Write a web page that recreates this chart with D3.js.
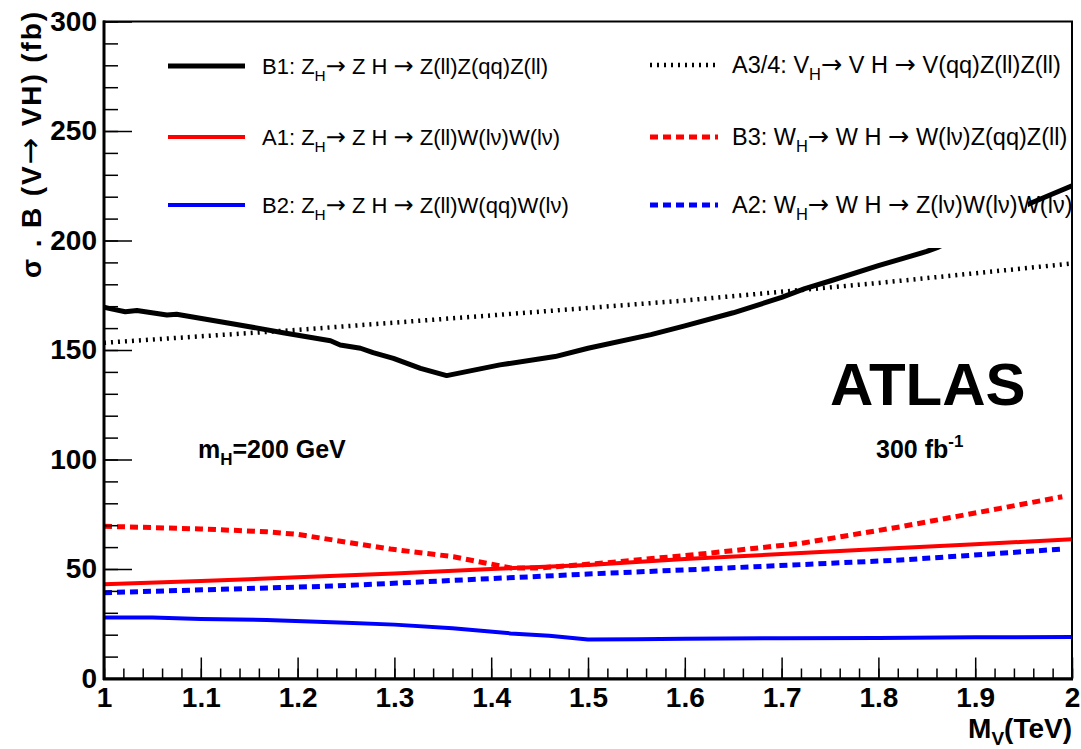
<!DOCTYPE html>
<html><head><meta charset="utf-8">
<script src="https://cdn.jsdelivr.net/npm/d3@7"></script>
<style>body{margin:0;background:#fff}svg{display:block}text{font-family:"Liberation Sans",Arial,sans-serif}</style>
</head><body><div id="chart"></div>
<script>
// ---- data ----
const xTickLabels = ["1","1.1","1.2","1.3","1.4","1.5","1.6","1.7","1.8","1.9","2"];
const yTickLabels = ["0","50","100","150","200","250","300"];

const mB1 = [1.0,1.005,1.022,1.034,1.065,1.075,1.134,1.185,1.234,1.244,1.265,1.278,1.299,1.327,1.354,1.409,1.466,1.5,1.565,1.6,1.65,1.7,1.724,1.75,1.8,1.85,1.862,1.9,1.957,2.0];
const vB1 = [169.5,169.0,167.5,168.0,166.0,166.3,161.9,157.9,154.2,152.3,150.8,148.8,146.2,141.6,138.3,143.2,147.0,150.8,157.0,161.0,167.0,174.0,178.0,181.5,188.5,195.0,197.0,205.0,217.0,225.0];

const mA34 = [1.0,1.2,1.4,1.6,1.8,2.0];
const vA34 = [153.3,159.2,165.8,172.6,180.6,189.5];

const mA1 = [1.0,1.1,1.2,1.3,1.4,1.5,1.6,1.7,1.8,1.9,2.0];
const vA1 = [43.0,44.5,46.2,48.0,50.0,51.8,54.6,56.8,59.1,61.3,63.6];

const mB3 = [1.0,1.1,1.168,1.2,1.296,1.361,1.42,1.45,1.513,1.616,1.72,1.823,1.926,1.99];
const vB3 = [69.5,68.3,67.0,65.8,59.1,55.6,50.5,50.5,52.6,56.8,61.7,69.3,77.7,83.0];

const mA2 = [1.0,1.237,1.5,1.616,1.823,1.99];
const vA2 = [39.2,42.2,47.7,49.9,54.1,59.1];

const mB2 = [1.0,1.05,1.1,1.168,1.25,1.3,1.36,1.42,1.46,1.5,1.55,1.6,1.7,1.8,1.9,2.0];
const vB2 = [27.9,27.8,27.2,26.7,25.5,24.6,22.9,20.6,19.5,17.8,17.9,18.2,18.4,18.5,18.8,19.0];

// ---- layout ----
const W = 1081, H = 749;
const svg = d3.select("#chart").append("svg").attr("width", W).attr("height", H);
const x = d3.scaleLinear().domain([1, 2]).range([104, 1072]);
const y = d3.scaleLinear().domain([0, 300]).range([678.5, 21.5]);

svg.append("defs").append("clipPath").attr("id","clip")
  .append("rect").attr("x",104).attr("y",21.5).attr("width",968).attr("height",657);

const zip = (m, v) => m.map((d, i) => [d, v[i]]);
const line = d3.line().x(d => x(d[0])).y(d => y(d[1])).curve(d3.curveLinear);

const series = [
  {name:"B1", data: zip(mB1,vB1), color:"#000", w:5, dash:null},
  {name:"A3/4", data: zip(mA34,vA34), color:"#000", w:4.5, dash:"2,5"},
  {name:"A1", data: zip(mA1,vA1), color:"#ff0000", w:4, dash:null},
  {name:"B3", data: zip(mB3,vB3), color:"#ff0000", w:5, dash:"8,5"},
  {name:"B2", data: zip(mB2,vB2), color:"#0000ff", w:4, dash:null},
  {name:"A2", data: zip(mA2,vA2), color:"#0000ff", w:5, dash:"8,5"}
];

const g = svg.append("g").attr("clip-path","url(#clip)");
series.forEach(s => {
  g.append("path").datum(s.data).attr("d", line)
    .attr("fill","none").attr("stroke", s.color).attr("stroke-width", s.w)
    .attr("stroke-dasharray", s.dash).attr("stroke-linejoin","round");
});

// legend background (covers part of curve as in the reference)
svg.append("rect").attr("x",140).attr("y",28).attr("width",888).attr("height",220).attr("fill","#fff");

// ---- axes ----
const yAxis = d3.axisLeft(y).tickValues([0,50,100,150,200,250,300])
  .tickFormat((d,i) => yTickLabels[i]).tickSizeInner(-28).tickSizeOuter(0).tickPadding(7);
const yMinor = d3.axisLeft(y).tickValues(d3.range(0, 301, 10)).tickFormat("").tickSizeInner(-14).tickSizeOuter(0);
const xAxis = d3.axisBottom(x).tickValues(d3.range(0, 11).map(i => 1 + i / 10))
  .tickFormat((d,i) => xTickLabels[i]).tickSizeInner(-21).tickSizeOuter(0).tickPadding(9);
const xMinor = d3.axisBottom(x).tickValues(d3.range(0, 51).map(i => 1 + i / 50)).tickFormat("").tickSizeInner(-10).tickSizeOuter(0);

function styleAxis(sel){
  sel.selectAll(".domain").remove();
  sel.selectAll("line").attr("stroke","#000").attr("stroke-width",1.5);
  sel.selectAll("text").attr("fill","#000").attr("font-size",28).attr("font-weight","bold")
     .style("font-family","'Liberation Sans',Arial,sans-serif");
}
svg.append("g").attr("transform","translate(104,0)").call(yMinor).call(styleAxis);
svg.append("g").attr("transform","translate(104,0)").call(yAxis).call(styleAxis);
svg.append("g").attr("transform","translate(0,678.5)").call(xMinor).call(styleAxis);
svg.append("g").attr("transform","translate(0,678.5)").call(xAxis).call(styleAxis);

// frame
svg.append("rect").attr("x",104).attr("y",21.5).attr("width",968).attr("height",657)
  .attr("fill","none").attr("stroke","#000").attr("stroke-width",2);
svg.append("line").attr("x1",104).attr("x2",104).attr("y1",20.5).attr("y2",680).attr("stroke","#000").attr("stroke-width",3);
svg.append("line").attr("x1",103).attr("x2",1073).attr("y1",679).attr("y2",679).attr("stroke","#000").attr("stroke-width",3);

// helper: write a string, rendering arrows with a wider glyph
function addRich(textSel, str, arrowSize, firstDy){
  let first = true;
  str.split("→").forEach((part, i) => {
    if (i > 0) {
      const a = textSel.append("tspan").style("font-family","'DejaVu Sans',sans-serif")
        .attr("font-size", arrowSize).attr("font-weight","normal").text("→");
      if (first && firstDy) a.attr("dy", firstDy);
      first = false;
    }
    if (part) {
      const p = textSel.append("tspan").text(part);
      if (first && firstDy) p.attr("dy", firstDy);
      first = false;
    }
  });
}

// axis titles
const yt = svg.append("text").attr("transform","translate(41,12) rotate(-90)")
  .attr("text-anchor","end").attr("font-size",28).attr("font-weight","bold")
  .attr("textLength",266).attr("lengthAdjust","spacing");
addRich(yt, "σ . B (V→ VH) (fb)", 32);

const xt = svg.append("text").attr("x",1072).attr("y",738).attr("text-anchor","end")
  .attr("font-size",28).attr("font-weight","bold");
xt.append("tspan").text("M");
xt.append("tspan").attr("dy",7).attr("font-size",19).text("V");
xt.append("tspan").attr("dy",-7).text("(TeV)");

// ---- legend ----
const legendItems = [
  {s:0, x0:168, x1:245, tx:262, yy:66,  fs:22, pre:"B1: Z", post:"→ Z H → Z(ll)Z(qq)Z(ll)"},
  {s:2, x0:168, x1:245, tx:262, yy:137, fs:22, pre:"A1: Z", post:"→ Z H → Z(ll)W(lν)W(lν)"},
  {s:4, x0:168, x1:245, tx:262, yy:205, fs:22, pre:"B2: Z", post:"→ Z H → Z(ll)W(qq)W(lν)"},
  {s:1, x0:650, x1:718, tx:732, yy:65,  fs:23.5, pre:"A3/4: V", post:"→ V H → V(qq)Z(ll)Z(ll)"},
  {s:3, x0:650, x1:718, tx:732, yy:137, fs:23.5, pre:"B3: W", post:"→ W H → W(lν)Z(qq)Z(ll)"},
  {s:5, x0:650, x1:718, tx:732, yy:205, fs:23.5, pre:"A2: W", post:"→ W H → Z(lν)W(lν)W(lν)"}
];
legendItems.forEach(it => {
  const s = series[it.s];
  svg.append("line").attr("x1",it.x0).attr("x2",it.x1).attr("y1",it.yy).attr("y2",it.yy)
    .attr("stroke",s.color).attr("stroke-width",s.w).attr("stroke-dasharray",s.dash);
  const t = svg.append("text").attr("x",it.tx).attr("y",it.yy+8).attr("font-size",it.fs).attr("fill","#000");
  t.append("tspan").text(it.pre);
  t.append("tspan").attr("dy",7).attr("font-size",it.fs*0.7).text("H");
  addRich(t, it.post, it.fs + 2, -7);
});

// ---- annotations ----
svg.append("text").attr("x",830).attr("y",405).attr("font-size",60).attr("font-weight","bold").text("ATLAS");
const mh = svg.append("text").attr("x",198).attr("y",458).attr("font-size",25).attr("font-weight","bold");
mh.append("tspan").text("m");
mh.append("tspan").attr("dy",7).attr("font-size",17).text("H");
mh.append("tspan").attr("dy",-7).text("=200 GeV");
const lum = svg.append("text").attr("x",876).attr("y",458).attr("font-size",25).attr("font-weight","bold");
lum.append("tspan").text("300 fb");
lum.append("tspan").attr("dy",-11).attr("font-size",17).text("-1");
</script></body></html>
